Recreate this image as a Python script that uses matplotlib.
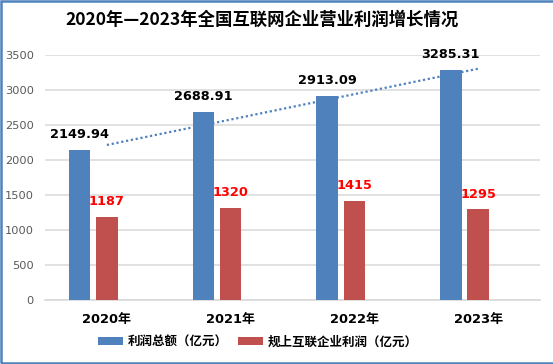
import matplotlib
matplotlib.use("Agg")
import matplotlib.pyplot as plt
import numpy as np
from matplotlib.patches import Rectangle

categories = ["2020年", "2021年", "2022年", "2023年"]
total_profit = [2149.94, 2688.91, 2913.09, 3285.31]
scale_profit = [1187, 1320, 1415, 1295]
total_labels = ["2149.94", "2688.91", "2913.09", "3285.31"]
scale_labels = ["1187", "1320", "1415", "1295"]
series_names = ["利润总额（亿元）", "规上互联企业利润（亿元）"]
title = "2020年—2023年全国互联网企业营业利润增长情况"
yticks = [0, 500, 1000, 1500, 2000, 2500, 3000, 3500]

BLUE = "#4F81BD"
RED = "#C0504D"
FAM = ["DejaVu Sans", "Noto Sans CJK SC"]

W, H = 553, 364
fig = plt.figure(figsize=(W / 100, H / 100), dpi=100)
fig.patch.set_facecolor("white")

ax = fig.add_axes([45 / W, (H - 300) / H, (540 - 45) / W, (300 - 55) / H])
x = np.arange(len(categories))
bw = 0.174
step = 0.221

ax.bar(x - step, total_profit, bw, color=BLUE, label=series_names[0], zorder=3)
ax.bar(x, scale_profit, bw, color=RED, label=series_names[1], zorder=3)

# linear trendline of total profit
coef = np.polyfit(x, total_profit, 1)
ax.plot(x, np.polyval(coef, x), linestyle=(0, (1, 1.2)), color=BLUE, lw=1.6, zorder=4)

for xi, v, s in zip(x, total_profit, total_labels):
    ax.annotate(s, (xi - step, v), xytext=(0, 11), textcoords="offset points",
                ha="center", va="center", fontsize=9.3, fontweight="bold",
                color="black", family=FAM, zorder=6)
for xi, v, s in zip(x, scale_profit, scale_labels):
    ax.annotate(s, (xi, v), xytext=(0, 11), textcoords="offset points",
                ha="center", va="center", fontsize=9.3, fontweight="bold",
                color="#FF0000", family=FAM, zorder=6)

ax.set_xlim(-0.5, 3.5)
ax.set_ylim(0, 3500)
ax.set_yticks(yticks)
ax.set_yticklabels([str(t) for t in yticks], fontsize=8.2, color="#595959", family=FAM)
ax.set_xticks(x)
ax.set_xticklabels(categories, fontsize=9.4, fontweight="bold", family=FAM, color="black")
ax.tick_params(axis="both", length=0)
ax.tick_params(axis="x", pad=9)
ax.tick_params(axis="y", pad=8)
for sp in ["top", "right", "left"]:
    ax.spines[sp].set_visible(False)
ax.spines["bottom"].set_color("#D9D9D9")
ax.spines["bottom"].set_linewidth(1.2)
ax.grid(axis="y", color="#D9D9D9", lw=1.1, zorder=0)
ax.set_axisbelow(True)

fig.text(262 / W, (H - 20) / H, title, ha="center", va="center", fontsize=12.5,
         fontweight="bold", family=["Noto Sans CJK SC"], color="black")

leg = fig.legend(loc="center", bbox_to_anchor=(258 / W, (H - 342) / H), ncol=2,
                 frameon=False, prop={"family": ["Noto Sans CJK SC"], "size": 9, "weight": "bold"},
                 handlelength=2.0, handleheight=0.6, columnspacing=0.8, handletextpad=0.4)

# figure border (top, left, bottom)
fig.add_artist(Rectangle((0.6 / W, 1.5 / H), 1.2, 1 - 2.3 / H, transform=fig.transFigure,
                         fill=False, edgecolor=BLUE, lw=1.8, clip_on=False))

fig.savefig("out.png", dpi=100, facecolor="white")
